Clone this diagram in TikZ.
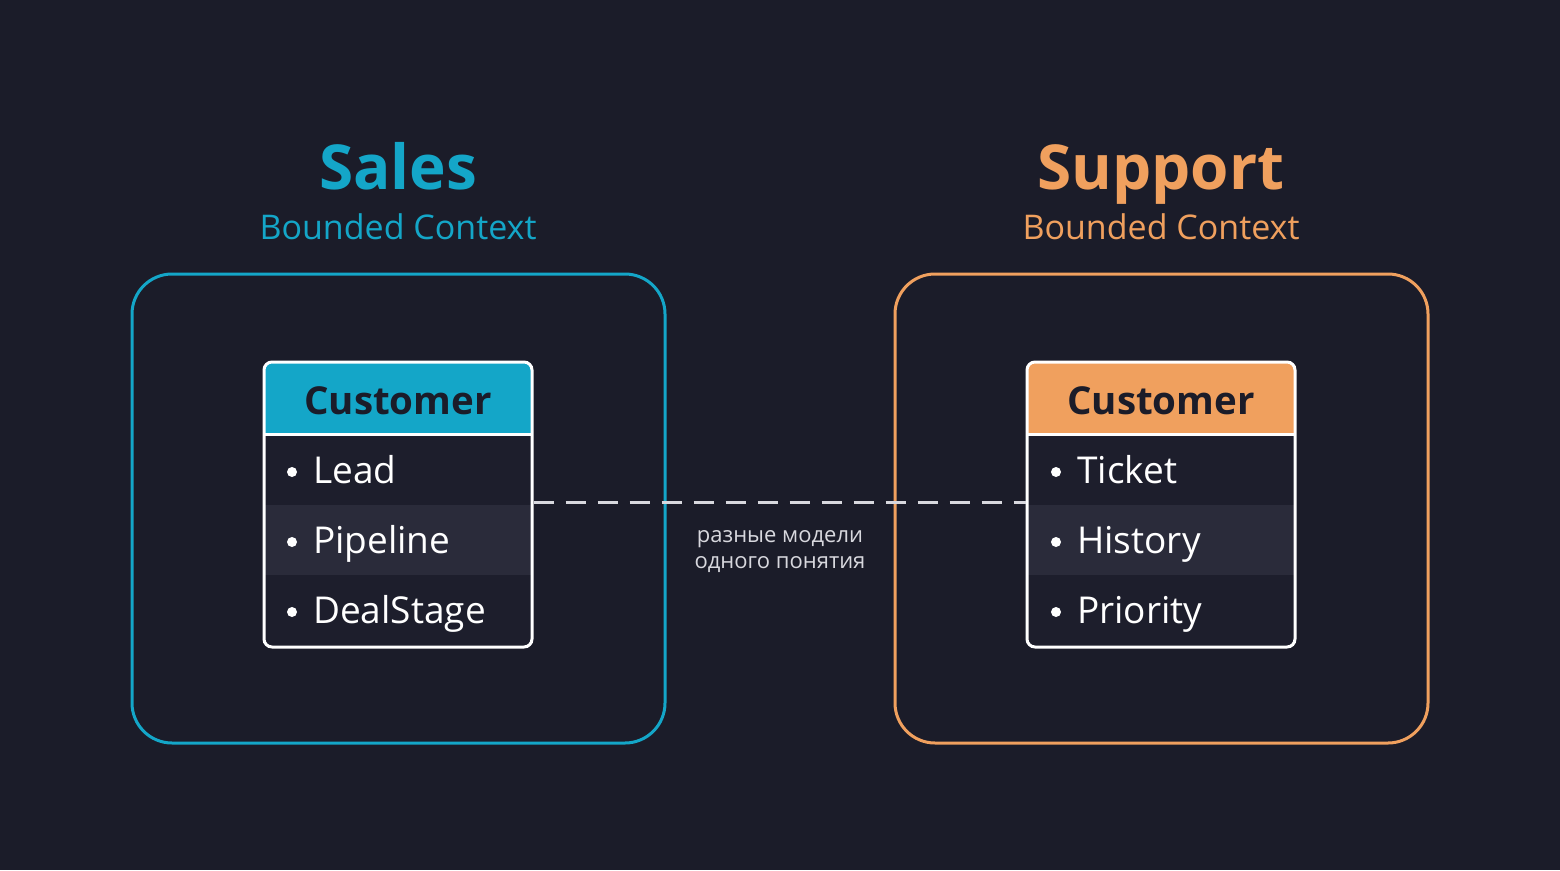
\documentclass[tikz,border=0pt]{standalone}
\usepackage{fontspec}
\setmainfont{Open Sans}
\definecolor{bg}{HTML}{1B1C29}
\definecolor{salesc}{HTML}{14A6C8}
\definecolor{suppc}{HTML}{F0A05E}
\definecolor{rowdark}{HTML}{1D1E2C}
\definecolor{rowmid}{HTML}{2A2B3A}
\definecolor{lblc}{HTML}{D8D8DE}
\begin{document}
\begin{tikzpicture}[x=1pt,y=-1pt,
  title/.style={anchor=base,inner sep=0pt,font=\bfseries\fontsize{62}{62}\selectfont},
  subtitle/.style={anchor=base,inner sep=0pt,font=\fontsize{34}{34}\selectfont},
  context/.style={draw,line width=3pt,rounded corners=40pt,minimum width=533pt,minimum height=469pt,inner sep=0pt},
  custframe/.style={draw=white,line width=3pt,rounded corners=8pt,minimum width=268pt,minimum height=285pt,inner sep=0pt},
  hdrtext/.style={anchor=base,inner sep=0pt,text=bg,font=\bfseries\fontsize{38.5}{38.5}\selectfont},
  item/.style={anchor=base west,inner sep=0pt,text=white,font=\fontsize{37}{37}\selectfont},
  bulletdot/.style={circle,fill=white,minimum size=10pt,inner sep=0pt},
  lbl/.style={align=center,inner sep=0pt,text=lblc,font=\fontsize{22}{26}\selectfont},
  link/.style={draw=lblc,line width=3pt,dash pattern=on 20pt off 12pt}
]
\fill[bg] (0,0) rectangle (1560,870);
\useasboundingbox (0,0) rectangle (1560,870);

% titles
\node[title,text=salesc] (salesT) at (398,189) {Sales};
\node[subtitle,text=salesc] (salesS) at (398,239) {Bounded Context};
\node[title,text=suppc] (suppT) at (1161,189) {Support};
\node[subtitle,text=suppc] (suppS) at (1161,239) {Bounded Context};

% context boxes
\node[context,draw=salesc] (salesBox) at (398.5,508.5) {};
\node[context,draw=suppc] (suppBox) at (1161.5,508.5) {};

% left customer fills
\begin{scope}
  \clip[rounded corners=8pt] (264,362) rectangle (532,647);
  \fill[rowdark] (264,362) rectangle (532,647);
  \fill[salesc] (264,362) rectangle (532,434);
  \fill[rowmid] (264,505) rectangle (532,575);
  \draw[white,line width=3pt] (264,434) -- (532,434);
\end{scope}
\node[custframe] (lc) at (398,504.5) {};
\node[hdrtext] (lcH) at (398,414) {Customer};
\node[bulletdot] (lb1) at (292,472) {};
\node[item] (lc1) at (313,483) {Lead};
\node[bulletdot] (lb2) at (292,542) {};
\node[item] (lc2) at (313,553) {Pipeline};
\node[bulletdot] (lb3) at (292,612) {};
\node[item] (lc3) at (313,623) {DealStage};

% right customer fills
\begin{scope}
  \clip[rounded corners=8pt] (1027,362) rectangle (1295,647);
  \fill[rowdark] (1027,362) rectangle (1295,647);
  \fill[suppc] (1027,362) rectangle (1295,434);
  \fill[rowmid] (1027,505) rectangle (1295,575);
  \draw[white,line width=3pt] (1027,434) -- (1295,434);
\end{scope}
\node[custframe] (rc) at (1161,504.5) {};
\node[hdrtext] (rcH) at (1161,414) {Customer};
\node[bulletdot] (rb1) at (1056,472) {};
\node[item] (rc1) at (1077,483) {Ticket};
\node[bulletdot] (rb2) at (1056,542) {};
\node[item] (rc2) at (1077,553) {History};
\node[bulletdot] (rb3) at (1056,612) {};
\node[item] (rc3) at (1077,623) {Priority};

% connector
\draw[link] ([yshift=2.5pt]lc.east) -- ([yshift=2.5pt]rc.west);
\node[lbl] (note) at (780,552) {разные модели\\одного понятия};
\end{tikzpicture}
\end{document}
